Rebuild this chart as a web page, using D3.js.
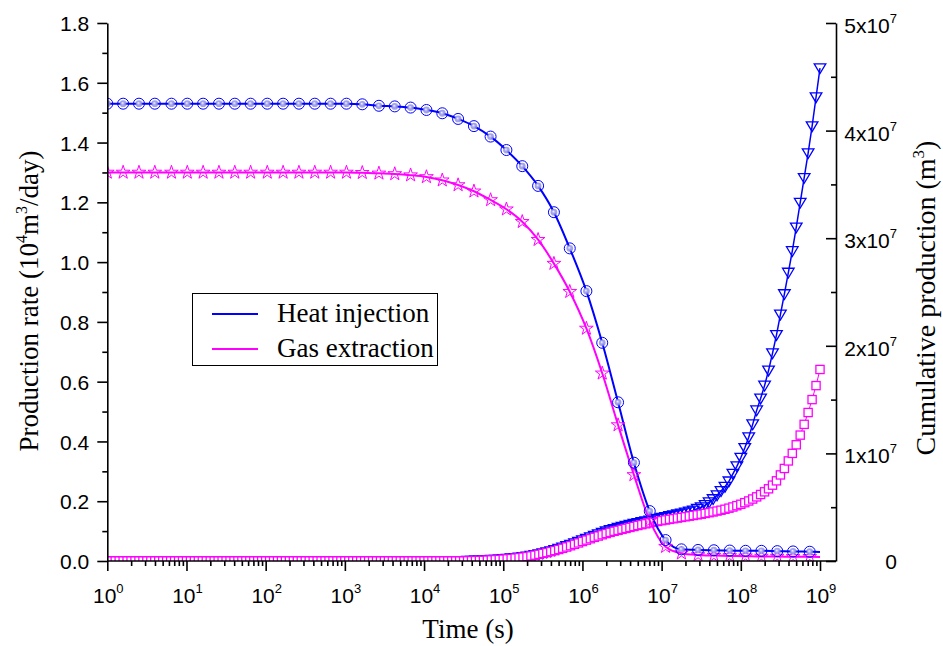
<!DOCTYPE html>
<html><head><meta charset="utf-8">
<script src="https://cdn.jsdelivr.net/npm/d3@7"></script>
<style>body{margin:0;background:#fff} svg{display:block}</style>
</head><body><svg id="chart" width="943" height="646"></svg>
<script>
// Time exponents (log10 of seconds) of the rate samples; the last point only ends the line
const rateExp = [0, 0.20, 0.40, 0.60, 0.81, 1.01, 1.21, 1.41, 1.61, 1.81,
  2.02, 2.22, 2.42, 2.62, 2.82, 3.02, 3.22, 3.43, 3.63, 3.83,
  4.03, 4.23, 4.43, 4.63, 4.84, 5.04, 5.24, 5.44, 5.64, 5.84,
  6.05, 6.25, 6.45, 6.65, 6.85, 7.05, 7.25, 7.46, 7.66, 7.86,
  8.06, 8.26, 8.46, 8.66, 8.87, 9.00];
// Production rate, 10^4 m3/day
const rateHeat = [1.53, 1.53, 1.53, 1.53, 1.53, 1.53, 1.53, 1.53, 1.53, 1.53,
  1.53, 1.53, 1.53, 1.53, 1.53, 1.53, 1.528, 1.523, 1.521, 1.517,
  1.509, 1.498, 1.479, 1.455, 1.420, 1.375, 1.321, 1.255, 1.167, 1.046,
  0.903, 0.730, 0.531, 0.329, 0.167, 0.070, 0.039, 0.037, 0.036, 0.035,
  0.034, 0.034, 0.033, 0.032, 0.031, 0.030];
const rateGas = [1.30, 1.30, 1.30, 1.30, 1.30, 1.30, 1.30, 1.30, 1.30, 1.30,
  1.30, 1.30, 1.30, 1.30, 1.30, 1.30, 1.299, 1.297, 1.295, 1.291,
  1.285, 1.274, 1.258, 1.237, 1.208, 1.177, 1.135, 1.075, 0.995, 0.901,
  0.778, 0.628, 0.455, 0.288, 0.135, 0.048, 0.026, 0.020, 0.018, 0.017,
  0.016, 0.015, 0.015, 0.014, 0.014, 0.013];

// Cumulative production, 10^7 m3, sampled every 0.05 decade from 10^0 to 10^9 s
const cumHeat = [
  0,0,0,0,0,0,0,0,0,0, 0,0,0,0,0,0,0,0,0,0,
  0,0,0,0,0,0,0,0,0,0, 0,0,0,0,0,0,0,0,0,0,
  0,0,0,0,0,0,0,0,0,0, 0,0,0,0,0,0,0,0,0,0,
  0,0,0,0,0,0,0,0,0,0, 0,0,0,0,0,0,0,0,0,0,
  0,0,0,0,0,0,0,0,0,0, 0,
  .002, .003, .004, .005, .006, .008, .010, .012, .014, .017,
  .020, .024, .028, .032, .037, .042, .048, .055, .063, .072,
  .081, .091, .102, .113, .125, .138, .151, .165, .179, .193,
  .207, .221, .235, .249, .262, .275, .287, .298, .309, .319,
  .328, .337, .345, .353, .361, .369, .377, .385, .393, .401,
  .409, .417, .425, .433, .441, .450, .460, .470, .485, .500,
  .520, .545, .575, .610, .650, .690, .740, .810, .880, .960,
  1.05, 1.15, 1.27, 1.40, 1.51, 1.63, 1.77, 1.93, 2.10, 2.29,
  2.48, 2.68, 2.88, 3.10, 3.33, 3.56, 3.79, 4.04, 4.31, 4.58];
const cumGas = [
  0,0,0,0,0,0,0,0,0,0, 0,0,0,0,0,0,0,0,0,0,
  0,0,0,0,0,0,0,0,0,0, 0,0,0,0,0,0,0,0,0,0,
  0,0,0,0,0,0,0,0,0,0, 0,0,0,0,0,0,0,0,0,0,
  0,0,0,0,0,0,0,0,0,0, 0,0,0,0,0,0,0,0,0,0,
  0,0,0,0,0,0,0,0,0,0, 0,
  .002, .003, .004, .005, .006, .008, .010, .012, .014, .017,
  .020, .023, .027, .031, .036, .041, .047, .054, .062, .070,
  .078, .087, .097, .107, .118, .130, .142, .155, .168, .181,
  .194, .207, .220, .232, .244, .255, .266, .276, .285, .294,
  .303, .312, .321, .330, .338, .346, .354, .361, .368, .375,
  .381, .387, .393, .399, .405, .411, .417, .423, .429, .435,
  .442, .449, .456, .464, .472, .481, .491, .502, .514, .527,
  .542, .558, .576, .596, .618, .643, .671, .705, .745, .800,
  .860, .930, 1.00, 1.08, 1.17, 1.27, 1.38, 1.50, 1.63, 1.78];
const cumExp = d3.range(cumHeat.length).map(i => i * 0.05);

const xMajorExp = [0, 1, 2, 3, 4, 5, 6, 7, 8, 9];
const yLeftTicks = [0, 0.2, 0.4, 0.6, 0.8, 1.0, 1.2, 1.4, 1.6, 1.8];
const yRightTicks = [0, 1, 2, 3, 4, 5];   // in 10^7 m3
const seriesNames = ["Heat injection", "Gas extraction"];

const BLUE = "#0000ff", MAGENTA = "#ff00ff";
const SANS = "'Liberation Sans', Arial, Helvetica, sans-serif";
const SERIF = "'Liberation Serif', 'Times New Roman', Times, serif";

const L = 107.3, R = 836, T = 23, B = 561;
const svg = d3.select("#chart");

const x = d3.scaleLog().domain([1, Math.pow(10, 9.202)]).range([L, R]);
const yL = d3.scaleLinear().domain([0, 1.8]).range([B, T]);
const yR = d3.scaleLinear().domain([0, 5]).range([B, T]);

const defs = svg.append("defs");
defs.append("clipPath").attr("id", "plotClip")
  .append("rect").attr("x", L).attr("y", T).attr("width", R - L).attr("height", B - T);
const ball = defs.append("radialGradient").attr("id", "ball")
  .attr("cx", "0.5").attr("cy", "0.5").attr("r", "0.5").attr("fx", "0.4").attr("fy", "0.38");
ball.append("stop").attr("offset", "0%").attr("stop-color", "#f4f4ff");
ball.append("stop").attr("offset", "45%").attr("stop-color", "#a8a8f0");
ball.append("stop").attr("offset", "100%").attr("stop-color", "#7c7ce0").attr("stop-opacity", 0.7);

const plot = svg.append("g").attr("clip-path", "url(#plotClip)");

// ---- cumulative production (right axis) ----
const cumLine = arr => d3.line().x((d, i) => x(Math.pow(10, cumExp[i]))).y(d => yR(d))(arr);
plot.append("path").attr("d", cumLine(cumHeat)).attr("fill", "none")
  .attr("stroke", BLUE).attr("stroke-width", 1.5);

const triDown = "M-5.8,-4.4L5.8,-4.4L0,5.4Z";
plot.append("g").selectAll("path").data(cumHeat).join("path")
  .attr("d", triDown)
  .attr("transform", (d, i) => `translate(${x(Math.pow(10, cumExp[i]))},${yR(d)})`)
  .attr("fill", "none").attr("stroke", BLUE).attr("stroke-width", 1.3);

plot.append("path").attr("d", cumLine(cumGas)).attr("fill", "none")
  .attr("stroke", MAGENTA).attr("stroke-width", 1);
plot.append("g").selectAll("rect").data(cumGas).join("rect")
  .attr("x", (d, i) => x(Math.pow(10, cumExp[i])) - 4.1)
  .attr("y", d => yR(d) - 4.1)
  .attr("width", 8.2).attr("height", 8.2)
  .attr("fill", "#fff").attr("stroke", MAGENTA).attr("stroke-width", 1.3);

// ---- production rate (left axis) ----
const rateLine = arr => d3.line().curve(d3.curveMonotoneX)
  .x((d, i) => x(Math.pow(10, rateExp[i]))).y(d => yL(d))(arr);
plot.append("path").attr("d", rateLine(rateGas)).attr("fill", "none")
  .attr("stroke", MAGENTA).attr("stroke-width", 2);
plot.append("path").attr("d", rateLine(rateHeat)).attr("fill", "none")
  .attr("stroke", BLUE).attr("stroke-width", 2);

const star = d3.symbol().type(d3.symbolStar).size(58)();
plot.append("g").selectAll("path").data(rateGas.slice(0, -1)).join("path")
  .attr("d", star)
  .attr("transform", (d, i) => `translate(${x(Math.pow(10, rateExp[i]))},${yL(d)})`)
  .attr("fill", "none").attr("stroke", MAGENTA).attr("stroke-width", 1);

const circ = plot.append("g").selectAll("g").data(rateHeat.slice(0, -1)).join("g")
  .attr("transform", (d, i) => `translate(${x(Math.pow(10, rateExp[i]))},${yL(d)})`);
circ.append("circle").attr("r", 3.4).attr("fill", "url(#ball)");
circ.append("circle").attr("r", 5.5).attr("fill", "none")
  .attr("stroke", BLUE).attr("stroke-width", 1);

// ---- axes ----
const axStyle = g => {
  g.selectAll("path,line").attr("stroke", "#000").attr("stroke-width", 1.6);
};

// bottom
const xMinor = [];
xMajorExp.slice(0, -1).forEach(e => { for (let m = 2; m <= 9; m++) xMinor.push(m * Math.pow(10, e)); });
svg.append("g").attr("transform", `translate(0,${B})`)
  .call(d3.axisBottom(x).tickValues(xMinor).tickSize(5).tickSizeOuter(0).tickFormat(""))
  .call(g => g.select(".domain").remove()).call(axStyle);
const xb = svg.append("g").attr("transform", `translate(0,${B})`)
  .call(d3.axisBottom(x).tickValues(xMajorExp.map(e => Math.pow(10, e))).tickSize(10).tickSizeOuter(0).tickFormat(""))
  .call(axStyle);
xb.select(".domain").attr("d", `M${L},0H${R}`);
xMajorExp.forEach(e => {
  const t = svg.append("text").attr("x", x(Math.pow(10, e)) + 1).attr("y", 603)
    .attr("text-anchor", "middle").attr("font-family", SANS).attr("font-size", 21);
  t.append("tspan").text("10");
  t.append("tspan").attr("font-size", 13).attr("dy", -10).text(String(e));
});

// left
svg.append("g").attr("transform", `translate(${L},0)`)
  .call(d3.axisLeft(yL).tickValues(d3.range(0.1, 1.8, 0.2)).tickSize(5).tickSizeOuter(0).tickFormat(""))
  .call(g => g.select(".domain").remove()).call(axStyle);
const yl = svg.append("g").attr("transform", `translate(${L},0)`)
  .call(d3.axisLeft(yL).tickValues(yLeftTicks).tickSize(10).tickSizeOuter(0)
    .tickPadding(8).tickFormat(d3.format(".1f")))
  .call(axStyle);
yl.selectAll("text").attr("font-family", SANS).attr("font-size", 21).attr("fill", "#000").attr("dy", "0.36em");

// right (ticks point into the plot)
svg.append("g").attr("transform", `translate(${R},0)`)
  .call(d3.axisLeft(yR).tickValues(d3.range(0.5, 5, 1)).tickSize(5).tickSizeOuter(0).tickFormat(""))
  .call(g => g.select(".domain").remove()).call(axStyle);
svg.append("g").attr("transform", `translate(${R},0)`)
  .call(d3.axisLeft(yR).tickValues(yRightTicks).tickSize(10).tickSizeOuter(0).tickFormat(""))
  .call(axStyle);
yRightTicks.forEach(v => {
  const t = svg.append("text").attr("x", 897).attr("y", yR(v) + (v === 0 ? 7.5 : 10))
    .attr("text-anchor", "end").attr("font-family", SANS).attr("font-size", 21);
  if (v === 0) { t.text("0"); return; }
  t.append("tspan").text(`${v}x10`);
  t.append("tspan").attr("font-size", 13).attr("dy", -10).text("7");
});

// ---- axis titles ----
svg.append("text").attr("x", 468).attr("y", 638).attr("text-anchor", "middle")
  .attr("font-family", SERIF).attr("font-size", 27).text("Time (s)");

const lt = svg.append("text").attr("transform", "translate(38,301) rotate(-90)")
  .attr("text-anchor", "middle").attr("font-family", SERIF).attr("font-size", 27);
lt.append("tspan").text("Production rate (10");
lt.append("tspan").attr("font-size", 16).attr("dy", -11).text("4");
lt.append("tspan").attr("dy", 11).text("m");
lt.append("tspan").attr("font-size", 16).attr("dy", -11).text("3");
lt.append("tspan").attr("dy", 11).text("/day)");

const rt = svg.append("text").attr("transform", "translate(935,298) rotate(-90)")
  .attr("text-anchor", "middle").attr("font-family", SERIF).attr("font-size", 28);
rt.append("tspan").text("Cumulative production (m");
rt.append("tspan").attr("font-size", 17).attr("dy", -11).text("3");
rt.append("tspan").attr("dy", 11).text(")");

// ---- legend ----
const lg = svg.append("g");
lg.append("rect").attr("x", 192.5).attr("y", 293.5).attr("width", 245).attr("height", 72)
  .attr("fill", "#fff").attr("stroke", "#000").attr("stroke-width", 1);
[BLUE, MAGENTA].forEach((c, i) => {
  const yy = 314 + i * 35;
  lg.append("line").attr("x1", 212).attr("x2", 258).attr("y1", yy).attr("y2", yy)
    .attr("stroke", c).attr("stroke-width", 2);
  lg.append("text").attr("x", 277).attr("y", yy + 8).attr("font-family", SERIF)
    .attr("font-size", 27).attr("fill", "#000").text(seriesNames[i]);
});
</script></body></html>
